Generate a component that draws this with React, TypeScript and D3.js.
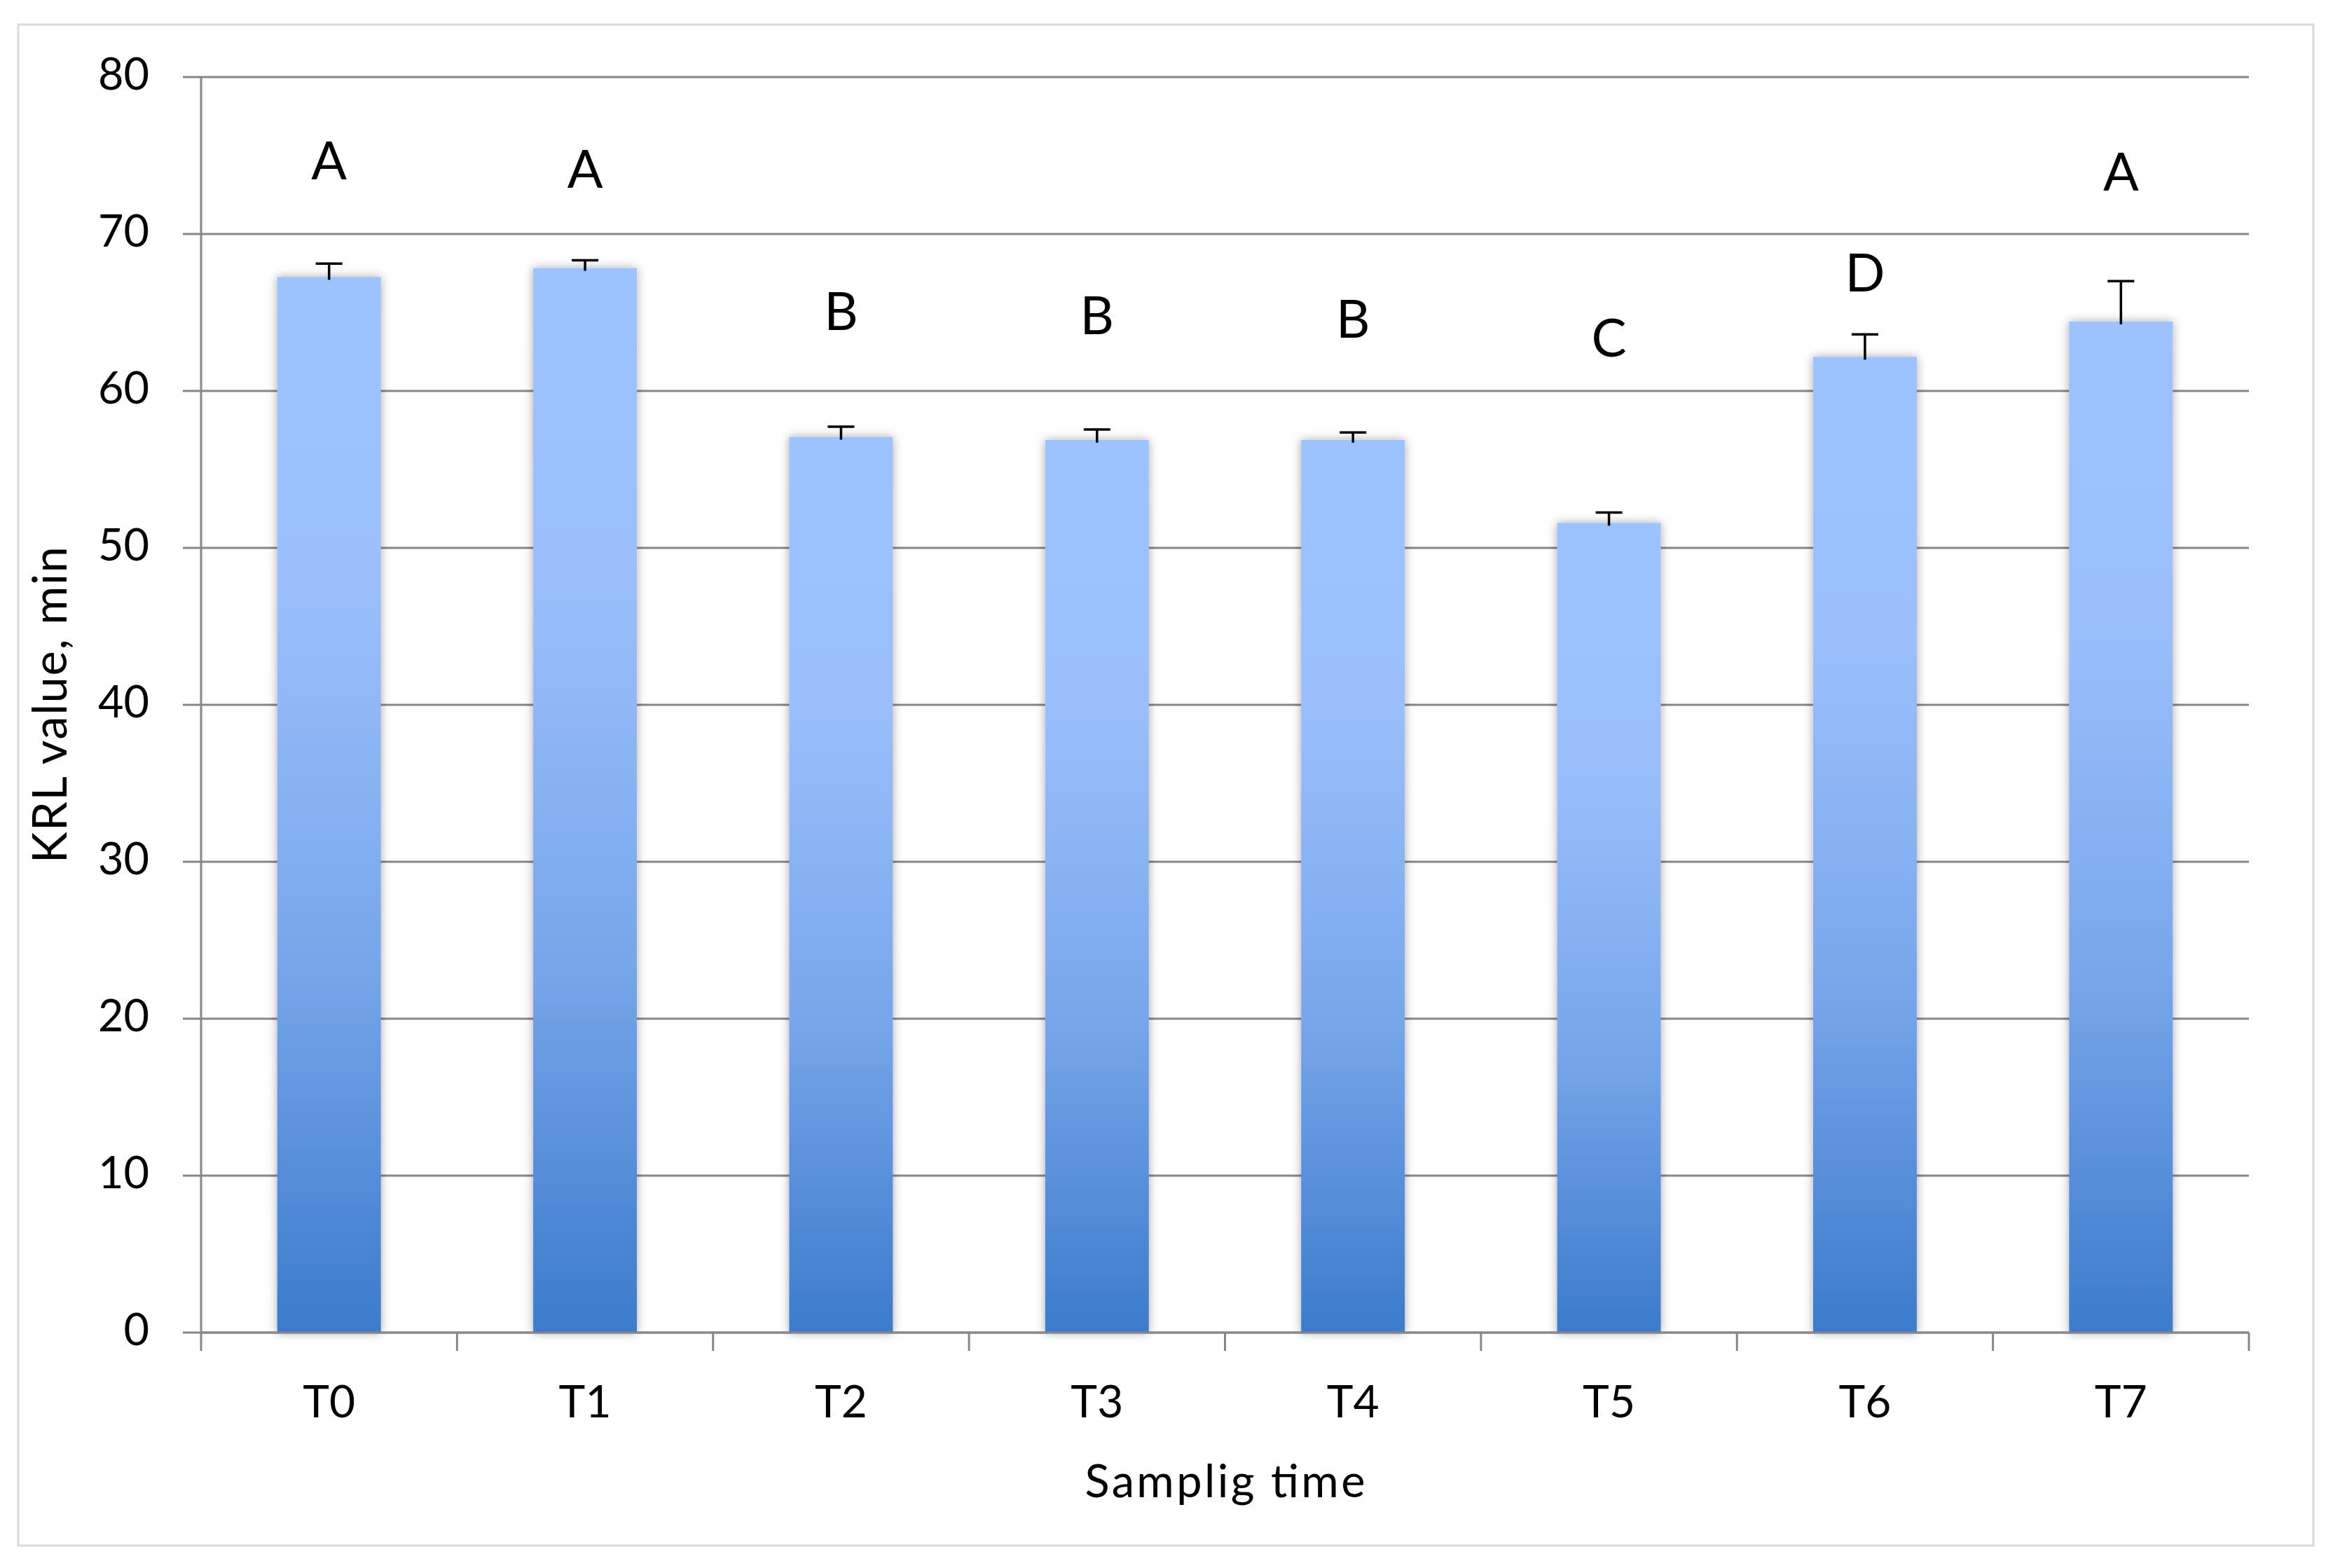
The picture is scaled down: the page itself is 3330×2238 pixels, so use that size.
import React from "react";
import * as d3 from "d3";

const categories = ["T0", "T1", "T2", "T3", "T4", "T5", "T6", "T7"];
const values = [67.26, 67.83, 57.07, 56.88, 56.88, 51.59, 62.17, 64.42];
const errors = [0.85, 0.5, 0.65, 0.67, 0.47, 0.67, 1.43, 2.58];
const letters = ["A", "A", "B", "B", "B", "C", "D", "A"];
const letterBaselines = [73.5, 72.95, 63.9, 63.6, 63.4, 62.2, 66.34, 72.75];
const yTicks = [0, 10, 20, 30, 40, 50, 60, 70, 80];

const W = 3330;
const H = 2238;
const left = 287;
const right = 3210;
const top = 110;
const bottom = 1902;
const FONT = "Lato, 'Open Sans', sans-serif";
const GRID = "#878787";

export default function App() {
  const x = d3.scaleBand<string>().domain(categories).range([left, right]).padding(0);
  const y = d3.scaleLinear().domain([0, 80]).range([bottom, top]);
  const bw = x.bandwidth() * 0.405;
  const boundaries = d3.range(categories.length + 1).map((i) => left + i * x.step());

  return (
    <svg
      width={W}
      height={H}
      style={{ position: "absolute", left: 0, top: 0, background: "#fff" }}
    >
      <defs>
        <linearGradient id="barGrad" x1="0" y1="0" x2="0" y2="1">
          <stop offset="0" stopColor="#9dc3ff" />
          <stop offset="0.3" stopColor="#9abffb" />
          <stop offset="0.65" stopColor="#78a6ea" />
          <stop offset="1" stopColor="#3c7bcb" />
        </linearGradient>
        <filter id="shadow" x="-30%" y="-5%" width="160%" height="110%">
          <feDropShadow dx="0" dy="0" stdDeviation="7" floodColor="#000" floodOpacity="0.35" />
        </filter>
      </defs>
      <rect x={26} y={35} width={3276} height={2171} fill="#fff" stroke="#d9d9d9" strokeWidth={3} />

      {/* gridlines */}
      {yTicks.map((t) => (
        <g key={t}>
          <line x1={left - 26} x2={right} y1={y(t)} y2={y(t)} stroke={GRID} strokeWidth={3} />
          <text
            x={213}
            y={y(t) + 18}
            textAnchor="end"
            fontFamily={FONT}
            fontSize={63}
            fill="#000"
          >
            {t}
          </text>
        </g>
      ))}

      {/* y axis */}
      <line x1={left} x2={left} y1={top} y2={bottom} stroke={GRID} strokeWidth={3} />

      {/* bars */}
      {categories.map((c, i) => (
        <rect
          key={c}
          x={x(c)! + x.bandwidth() / 2 - bw / 2}
          y={y(values[i])}
          width={bw}
          height={y(0) - y(values[i])}
          fill="url(#barGrad)"
          filter="url(#shadow)"
        />
      ))}

      {/* x axis */}
      <line x1={left} x2={right} y1={bottom} y2={bottom} stroke={GRID} strokeWidth={3} />
      {boundaries.map((b, i) => (
        <line key={i} x1={b} x2={b} y1={bottom} y2={bottom + 26} stroke={GRID} strokeWidth={3} />
      ))}

      {/* error bars */}
      {categories.map((c, i) => {
        const cx = x(c)! + x.bandwidth() / 2;
        const yt = y(values[i] + errors[i]);
        return (
          <g key={c} stroke="#000" strokeWidth={3.5}>
            <line x1={cx} x2={cx} y1={y(values[i]) + 4} y2={yt} />
            <line x1={cx - 19} x2={cx + 19} y1={yt} y2={yt} />
          </g>
        );
      })}

      {/* letters */}
      {categories.map((c, i) => (
        <text
          key={c}
          x={x(c)! + x.bandwidth() / 2}
          y={y(letterBaselines[i])}
          textAnchor="middle"
          fontFamily={FONT}
          fontSize={75}
          fill="#000"
        >
          {letters[i]}
        </text>
      ))}

      {/* x tick labels */}
      {categories.map((c) => (
        <text
          key={c}
          x={x(c)! + x.bandwidth() / 2}
          y={2023}
          textAnchor="middle"
          fontFamily={FONT}
          fontSize={64}
          fill="#000"
        >
          {c}
        </text>
      ))}

      <text
        x={(left + right) / 2}
        y={2137}
        textAnchor="middle"
        fontFamily={FONT}
        fontSize={65}
        textLength={400}
        lengthAdjust="spacing"
        fill="#000"
      >
        Samplig time
      </text>
      <text
        transform={`translate(95, ${(top + bottom) / 2}) rotate(-90)`}
        textAnchor="middle"
        fontFamily={FONT}
        fontSize={67}
        textLength={452}
        lengthAdjust="spacing"
        fill="#000"
      >
        KRL value, min
      </text>
    </svg>
  );
}
